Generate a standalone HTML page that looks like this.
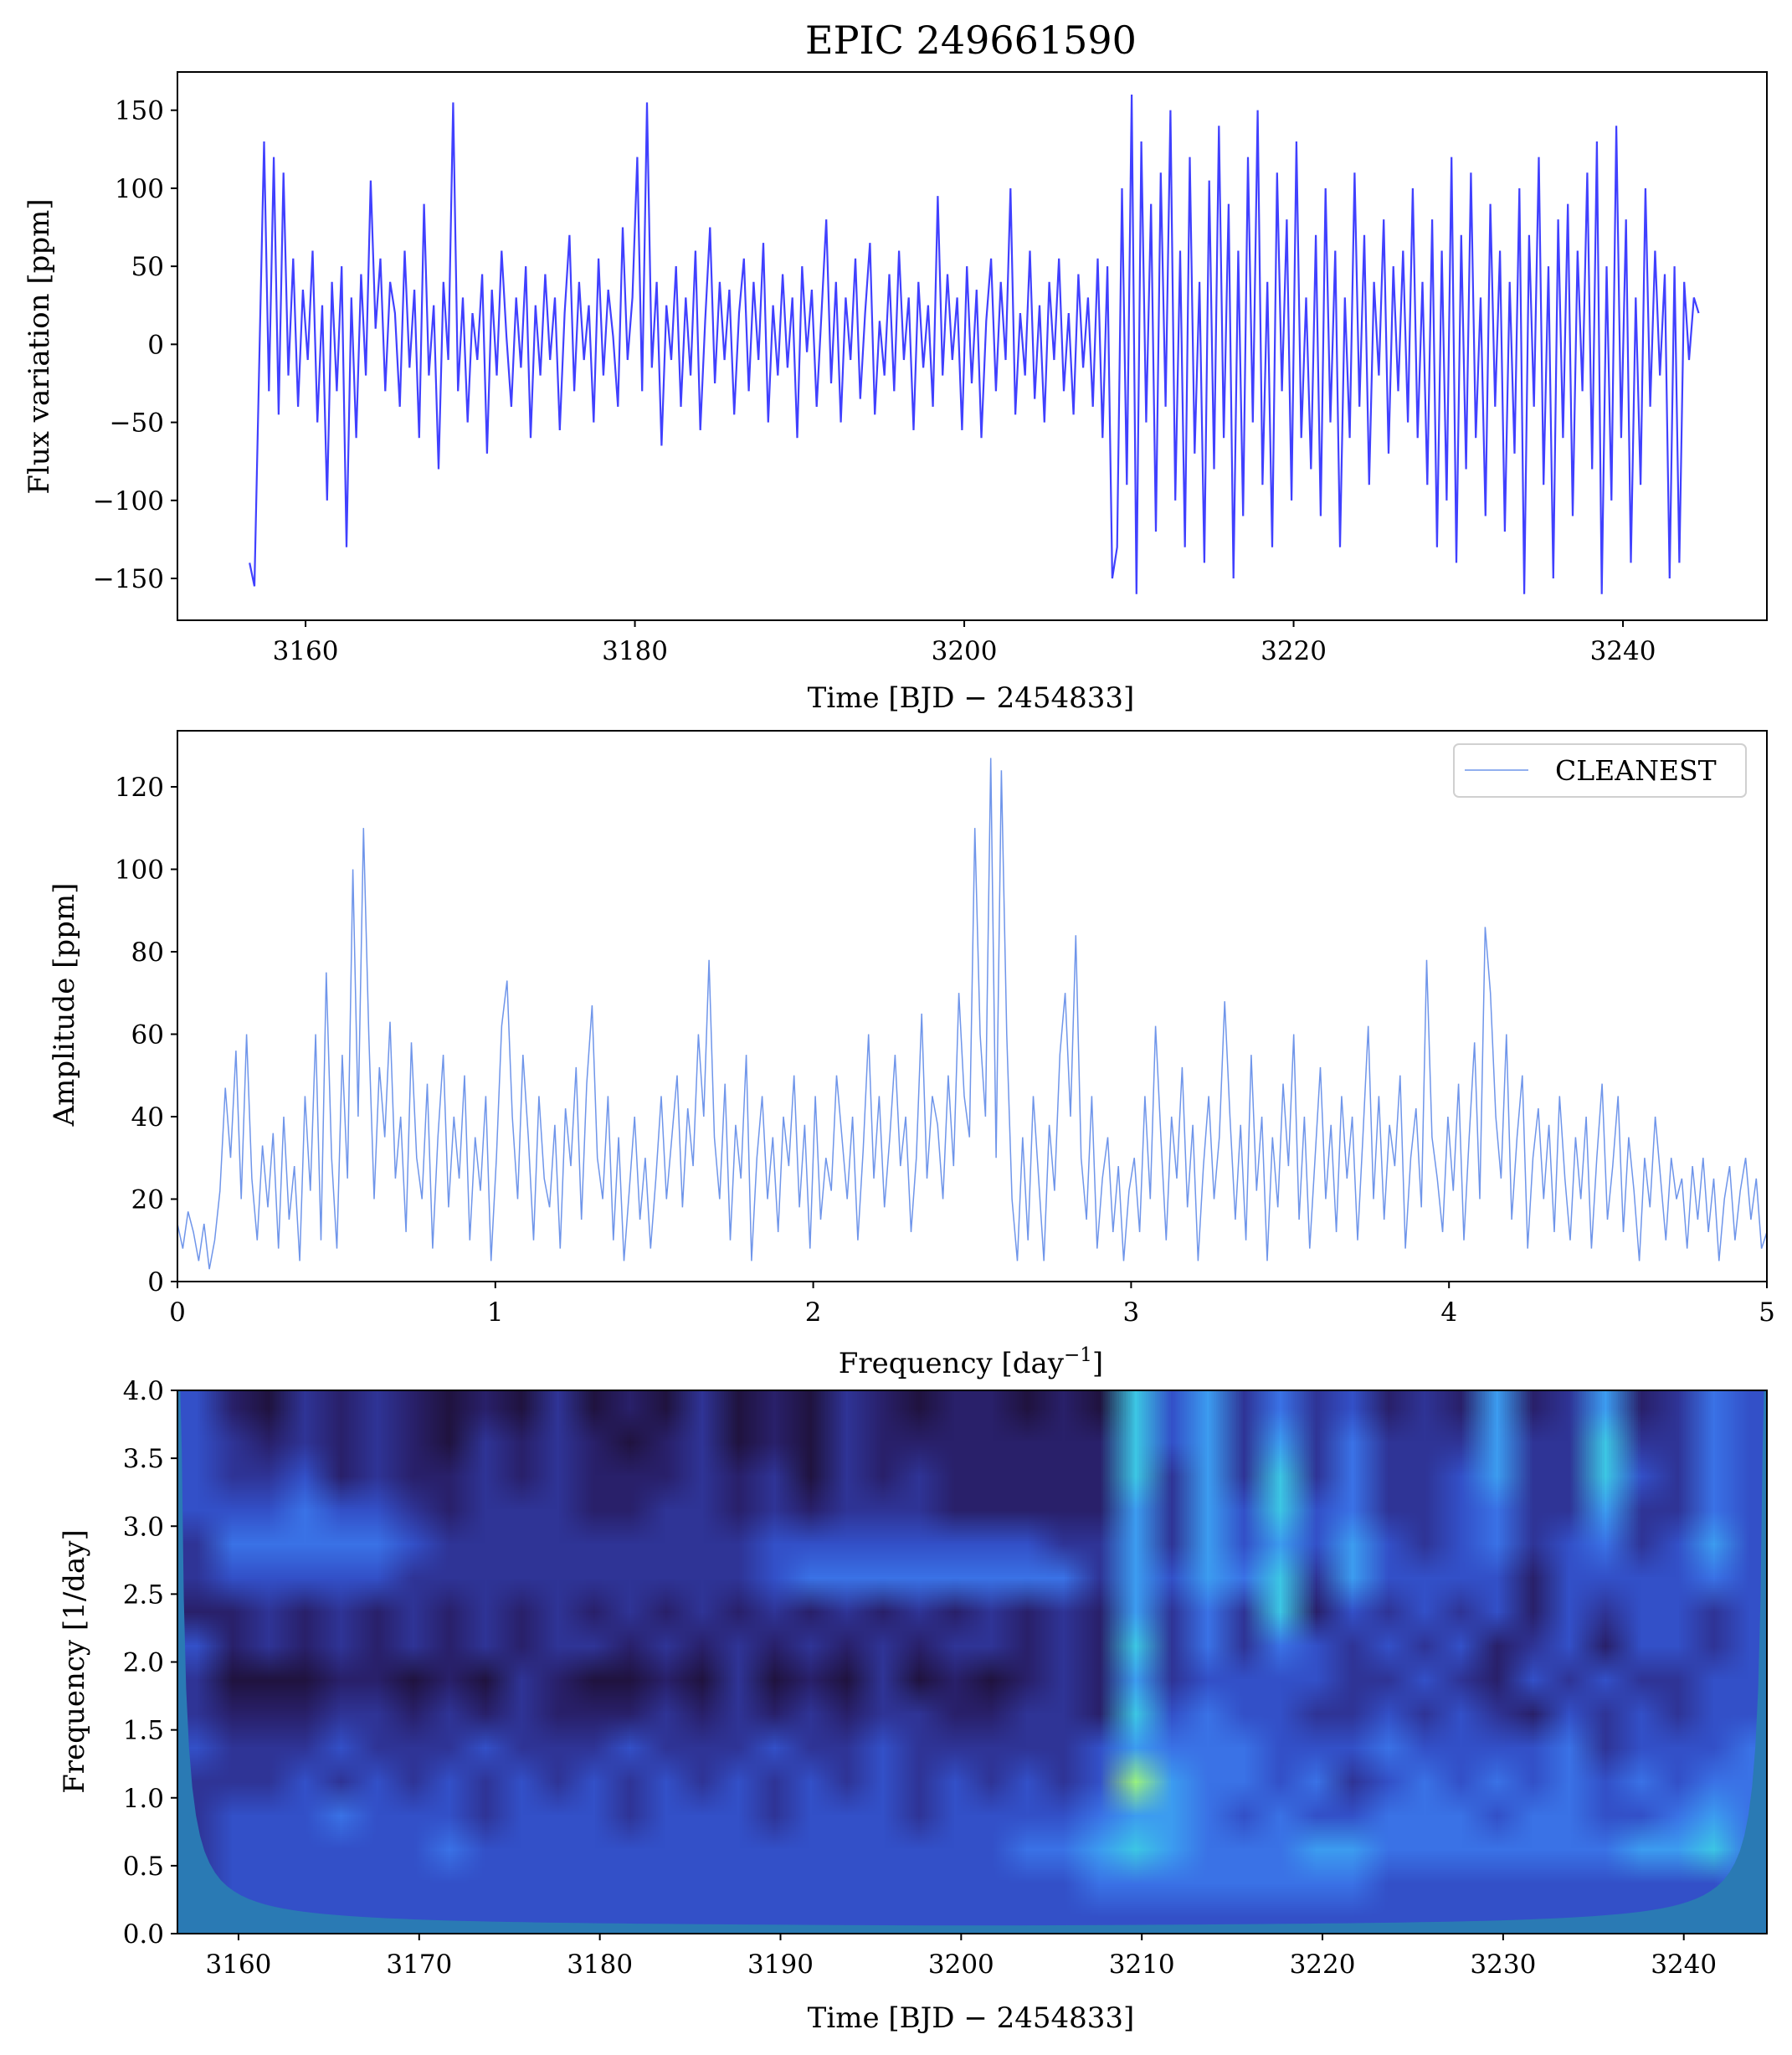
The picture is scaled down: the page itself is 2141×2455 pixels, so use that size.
<!DOCTYPE html>
<html><head><meta charset="utf-8">
<style>
html,body{margin:0;padding:0;background:#fff;}
svg text{font-family:"DejaVu Serif","Liberation Serif",serif;fill:#000;}
</style></head>
<body>
<svg id="fig" xmlns="http://www.w3.org/2000/svg" width="2141" height="2450" viewBox="0 0 2141 2450">
<rect width="2141" height="2450" fill="#fff"/>
<text x="1160" y="64" font-size="46" text-anchor="middle">EPIC 249661590</text>
<g id="top"></g><g id="mid"></g><g id="bot"></g>
</svg>
<canvas id="wcv" width="44" height="16" style="display:none"></canvas>
<script>
// ---------- data ----------
const fluxStart = 3156.6, fluxEnd = 3244.6;
const fluxValues = [
-140,-155,-10,130,-30,120,-45,110,-20,55,-40,35,-10,60,-50,25,-100,40,-30,50,
-130,30,-60,45,-20,105,10,55,-30,40,20,-40,60,-15,35,-60,90,-20,25,-80,
40,-10,155,-30,30,-50,20,-10,45,-70,35,-20,60,5,-40,30,-15,50,-60,25,
-20,45,-10,30,-55,20,70,-30,40,-10,25,-50,55,-20,35,5,-40,75,-10,30,
120,-30,155,-15,40,-65,25,-10,50,-40,30,-20,60,-55,15,75,-25,40,-10,35,
-45,20,55,-30,40,-10,65,-50,25,-20,45,-15,30,-60,50,-5,35,-40,20,80,
-25,40,-50,30,-10,55,-35,20,65,-45,15,-20,45,-30,60,-10,30,-55,40,-15,
25,-40,95,-20,45,-10,30,-55,50,-25,35,-60,15,55,-30,40,-10,100,-45,20,
-20,60,-35,25,-50,40,-10,55,-30,20,-45,45,-15,30,-40,55,-60,50,-150,-130,
100,-90,160,-160,130,-50,90,-120,110,-40,150,-100,60,-130,120,-70,40,-140,105,-80,
140,-60,90,-150,60,-110,120,-50,150,-90,40,-130,110,-30,80,-100,130,-60,30,-80,
70,-110,100,-50,60,-130,30,-60,110,-40,70,-90,40,-20,80,-70,50,-30,60,-50,
100,-60,40,-90,80,-130,60,-100,120,-140,70,-80,110,-60,30,-110,90,-40,60,-120,
40,-70,100,-160,70,-40,120,-90,50,-150,80,-60,90,-110,60,-30,110,-80,130,-160,
50,-100,140,-60,80,-140,30,-90,100,-40,60,-20,45,-150,50,-140,40,-10,30,20];
const fluxTicks = [-150,-100,-50,0,50,100,150];
const fluxTickLabels = ["\u2212150","\u2212100","\u221250","0","50","100","150"];
const timeTicksTop = [3160,3180,3200,3220,3240];

const freqStart = 0, freqEnd = 5;
const ampValues = [
14,8,17,12,5,14,3,10,22,47,30,56,20,60,25,10,33,18,36,8,
40,15,28,5,45,22,60,10,75,30,8,55,25,100,40,110,60,20,52,35,
63,25,40,12,58,30,20,48,8,35,55,18,40,25,50,10,35,22,45,5,
30,62,73,40,20,55,35,10,45,25,18,38,8,42,28,52,15,48,67,30,
20,45,10,35,5,22,40,15,30,8,25,45,20,35,50,18,42,28,60,40,
78,35,20,48,10,38,25,55,5,30,45,20,35,12,40,28,50,18,38,8,
45,15,30,22,50,35,20,40,10,32,60,25,45,18,35,55,28,40,12,30,
65,25,45,38,20,50,28,70,45,35,110,60,40,127,30,124,60,20,5,35,
10,45,25,5,38,22,55,70,40,84,30,15,45,8,25,35,12,28,5,22,
30,12,45,20,62,35,10,40,25,52,18,38,5,28,45,20,35,68,40,15,
38,10,55,22,40,5,35,18,48,28,60,15,40,8,30,52,20,38,12,45,
25,40,10,35,62,20,45,15,38,28,50,8,30,42,18,78,35,25,12,40,
22,48,10,35,58,20,86,70,40,25,60,15,35,50,8,30,42,20,38,12,
45,25,10,35,20,40,8,30,48,15,28,45,12,35,22,5,30,18,40,25,
10,30,20,25,8,28,15,30,12,25,5,20,28,10,22,30,15,25,8,12];
const ampTicks = [0,20,40,60,80,100,120];
const freqTicks = [0,1,2,3,4,5];

const waveRows = [
"42132321213"+"12131213212"+"21217463534"+"23262362354",
"43232321323"+"21231213222"+"22227463635"+"33363373354",
"43342322323"+"22232313232"+"22227363735"+"33463374354",
"44454432333"+"22332323332"+"22226364745"+"33453363354",
"35555543333"+"33333444444"+"44336364646"+"43453453464",
"34444433333"+"33333455555"+"55536465736"+"44442444454",
"22323232323"+"23232323232"+"32326353724"+"34342434434",
"42323232323"+"32323232323"+"32327353543"+"43423424434",
"31112212132"+"11213121312"+"12326344443"+"34324343344",
"32223323232"+"22323232332"+"23327454433"+"43432434344",
"43334333433"+"34333433433"+"33346555444"+"54444534445",
"33343434343"+"43434343434"+"34349655453"+"45454545455",
"34445444344"+"43444344434"+"44456654544"+"55545544565",
"34444445444"+"44444444444"+"45567655566"+"55555556675",
"34444444444"+"44444444444"+"44455555555"+"44444444445",
"44444444444"+"44444444444"+"44444444444"+"44444444444"];
const waveFreqTicks = [0,0.5,1,1.5,2,2.5,3,3.5,4];
const timeTicksBot = [3160,3170,3180,3190,3200,3210,3220,3230,3240];

// ---------- helpers ----------
const NS="http://www.w3.org/2000/svg";
function el(tag,attrs,parent,txt){const e=document.createElementNS(NS,tag);for(const k in attrs)e.setAttribute(k,attrs[k]);if(txt!==undefined)e.textContent=txt;parent.appendChild(e);return e;}
const L=212,R=2111;

// ---------- top panel ----------
(function(){
 const g=document.getElementById('top');const T=86,B=741;
 const x0=3152.22,x1=3248.74,y0=-176.8,y1=174.5;
 const X=v=>L+(v-x0)/(x1-x0)*(R-L), Y=v=>B-(v-y0)/(y1-y0)*(B-T);
 const n=fluxValues.length;let d="";
 fluxValues.forEach((v,i)=>{const t=fluxStart+(fluxEnd-fluxStart)*i/(n-1);d+=(i?"L":"M")+X(t).toFixed(1)+","+Y(v).toFixed(1);});
 const p=el('path',{d:d,fill:'none',stroke:'#0000ff','stroke-opacity':'0.75','stroke-width':'2.2'},g);
 
 
 const f=el('rect',{x:L,y:T,width:R-L,height:B-T,fill:'none',stroke:'#000','stroke-width':'2'},g);
 
 fluxTicks.forEach((v,i)=>{el('line',{x1:L-8,x2:L,y1:Y(v),y2:Y(v),stroke:'#000','stroke-width':'2'},g);
  const t=el('text',{x:L-16,y:Y(v)+11,'font-size':'31','text-anchor':'end'},g,fluxTickLabels[i]);
  });
 timeTicksTop.forEach(v=>{el('line',{x1:X(v),x2:X(v),y1:B,y2:B+8,stroke:'#000','stroke-width':'2'},g);
  const t=el('text',{x:X(v),y:B+47,'font-size':'31','text-anchor':'middle'},g,String(v));
  });
 const xl=el('text',{x:1160,y:845,'font-size':'34','text-anchor':'middle'},g,"Time [BJD \u2212 2454833]");
 
 const yl=el('text',{x:0,y:0,'font-size':'34','text-anchor':'middle',transform:'translate(58,414) rotate(-90)'},g,"Flux variation [ppm]");
 
})();

// ---------- middle panel ----------
(function(){
 const g=document.getElementById('mid');const T=873,B=1531;
 const y0=0,y1=133.6;
 const X=v=>L+(v-freqStart)/(freqEnd-freqStart)*(R-L), Y=v=>B-(v-y0)/(y1-y0)*(B-T);
 const n=ampValues.length;let d="";
 ampValues.forEach((v,i)=>{const f=freqStart+(freqEnd-freqStart)*i/(n-1);d+=(i?"L":"M")+X(f).toFixed(1)+","+Y(v).toFixed(1);});
 const p=el('path',{d:d,fill:'none',stroke:'#6f95ea','stroke-width':'1.5'},g);
 
 
 const f=el('rect',{x:L,y:T,width:R-L,height:B-T,fill:'none',stroke:'#000','stroke-width':'2'},g);
 
 ampTicks.forEach(v=>{el('line',{x1:L-8,x2:L,y1:Y(v),y2:Y(v),stroke:'#000','stroke-width':'2'},g);
  const t=el('text',{x:L-16,y:Y(v)+11,'font-size':'31','text-anchor':'end'},g,String(v));
  });
 freqTicks.forEach(v=>{el('line',{x1:X(v),x2:X(v),y1:B,y2:B+8,stroke:'#000','stroke-width':'2'},g);
  const t=el('text',{x:X(v),y:B+47,'font-size':'31','text-anchor':'middle'},g,String(v));
  });
 const xl=el('text',{x:1160,y:1640,'font-size':'34','text-anchor':'middle'},g,"Frequency [day");
 el('tspan',{'font-size':'23',dy:'-14'},xl,"\u22121");
 el('tspan',{dy:'14'},xl,"]");
 
 const yl=el('text',{x:0,y:0,'font-size':'34','text-anchor':'middle',transform:'translate(88,1200) rotate(-90)'},g,"Amplitude [ppm]");
 
 const lg=el('g',{},g);
 el('rect',{x:1737,y:889,width:349,height:63,rx:6,fill:'#fff',stroke:'#d0d0d0','stroke-width':'2'},lg);
 el('line',{x1:1750,x2:1826,y1:920,y2:920,stroke:'#6f95ea','stroke-width':'1.5'},lg);
 el('text',{x:1858,y:932,'font-size':'33'},lg,"CLEANEST");
})();

// ---------- bottom panel (wavelet) ----------
(function(){
 const g=document.getElementById('bot');const T=1661,B=2310;
 const x0=3156.62,x1=3244.6,y0=0,y1=4;
 const X=v=>L+(v-x0)/(x1-x0)*(R-L), Y=v=>B-(v-y0)/(y1-y0)*(B-T);
 const cmap=["#180c32","#20133f","#29206a","#2f3496","#3350c8","#3a72e6","#3c9cf0","#3cc6e4","#58e2b0","#98f080"];
 const cv=document.getElementById('wcv');const ctx=cv.getContext('2d');
 waveRows.forEach((row,r)=>{for(let c=0;c<row.length;c++){ctx.fillStyle=cmap[+row[c]];ctx.fillRect(c,r,1,1);}});
 const url=cv.toDataURL();
 const img=el('image',{x:L,y:T,width:R-L,height:B-T,preserveAspectRatio:'none',href:url,style:'image-rendering:auto'},g);
 
 
 // cone of influence
 let d="M"+X(x0)+","+Y(4);
 for(let k=0;k<=60;k++){const t=x0+0.05+ k*k*0.012;const dd=t-x0;const fr=Math.min(4,0.04+0.85/dd);d+="L"+X(t).toFixed(1)+","+Y(fr).toFixed(1);}
 d+="L"+X((x0+x1)/2)+","+Y(0.06);
 for(let k=60;k>=0;k--){const t=x1-0.05-k*k*0.012;const dd=x1-t;const fr=Math.min(4,0.04+0.85/dd);d+="L"+X(t).toFixed(1)+","+Y(fr).toFixed(1);}
 d+="L"+X(x1)+","+Y(4)+"L"+X(x1)+","+Y(0)+"L"+X(x0)+","+Y(0)+"Z";
 const coi=el('path',{d:d,fill:'#2a7ab4'},g);
 
 const f=el('rect',{x:L,y:T,width:R-L,height:B-T,fill:'none',stroke:'#000','stroke-width':'2'},g);
 
 waveFreqTicks.forEach(v=>{el('line',{x1:L-8,x2:L,y1:Y(v),y2:Y(v),stroke:'#000','stroke-width':'2'},g);
  const t=el('text',{x:L-16,y:Y(v)+11,'font-size':'31','text-anchor':'end'},g,v.toFixed(1));
  });
 timeTicksBot.forEach(v=>{el('line',{x1:X(v),x2:X(v),y1:B,y2:B+8,stroke:'#000','stroke-width':'2'},g);
  const t=el('text',{x:X(v),y:B+47,'font-size':'31','text-anchor':'middle'},g,String(v));
  });
 const xl=el('text',{x:1160,y:2422,'font-size':'34','text-anchor':'middle'},g,"Time [BJD \u2212 2454833]");
 
 const yl=el('text',{x:0,y:0,'font-size':'34','text-anchor':'middle',transform:'translate(100,1985) rotate(-90)'},g,"Frequency [1/day]");
 
})();
</script>
</body></html>
